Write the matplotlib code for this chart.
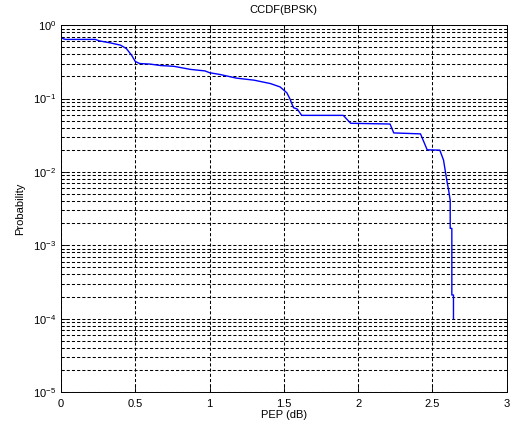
"""
CCDF of PEP for BPSK, semilog plot in the old MATLAB look.
"""

import matplotlib

matplotlib.use("Agg")
import matplotlib.pyplot as plt
from matplotlib.ticker import LogLocator, MultipleLocator, NullFormatter

# curve (PEP in dB, probability)
pep_db = [
    0.0, 0.01, 0.03, 0.23, 0.26, 0.33, 0.40, 0.44, 0.475, 0.50,
    0.53, 0.60, 0.67, 0.76, 0.87, 0.97, 1.00, 1.07, 1.18, 1.30,
    1.41, 1.475, 1.52, 1.54, 1.565, 1.59, 1.62, 1.90, 1.95, 2.215,
    2.24, 2.42, 2.465, 2.55, 2.575, 2.597, 2.609, 2.62, 2.62, 2.631,
    2.631, 2.642, 2.642,
]
prob = [
    0.68, 0.66, 0.64, 0.64, 0.61, 0.575, 0.535, 0.48, 0.39, 0.32,
    0.30, 0.295, 0.282, 0.275, 0.25, 0.238, 0.225, 0.213, 0.19, 0.178,
    0.16, 0.144, 0.12, 0.10, 0.075, 0.072, 0.059, 0.059, 0.046, 0.045,
    0.034, 0.033, 0.020, 0.0198, 0.0145, 0.0077, 0.0057, 0.0041, 0.0017, 0.0017,
    0.00021, 0.00021, 0.0001,
]

plt.rcParams.update(
    {
        "font.family": ["Liberation Sans", "DejaVu Sans"],
        "font.size": 8,
        "mathtext.default": "regular",
        "xtick.direction": "in",
        "ytick.direction": "in",
        "xtick.top": True,
        "ytick.right": True,
    }
)

fig = plt.figure(figsize=(5.14, 4.30), dpi=100)
ax = fig.add_axes([0.1187, 0.0884, 0.867, 0.853])

ax.semilogy(pep_db, prob, color="#0000ff", lw=1.0)

ax.set_xlim(0, 3)
ax.set_ylim(1e-5, 1)
ax.xaxis.set_major_locator(MultipleLocator(0.5))
ax.xaxis.set_major_formatter(plt.FuncFormatter(lambda v, _: f"{v:g}"))
ax.yaxis.set_major_locator(LogLocator(base=10, numticks=10))
ax.yaxis.set_minor_locator(LogLocator(base=10, subs=range(2, 10), numticks=50))
ax.yaxis.set_minor_formatter(NullFormatter())

dash = (0, (3, 2))
ax.grid(True, which="major", axis="x", color="black", ls=dash, lw=0.75)
ax.grid(True, which="both", axis="y", color="black", ls=dash, lw=0.75)

ax.tick_params(which="major", length=4, width=0.6, colors="black", labelsize=8)
ax.tick_params(axis="x", which="major", pad=5)
ax.tick_params(which="minor", length=2, width=0.6)
for s in ax.spines.values():
    s.set_linewidth(0.7)

ax.set_title("CCDF(BPSK)", fontsize=8, pad=9)
ax.set_xlabel("PEP (dB)", fontsize=8, labelpad=1)
ax.set_ylabel("Probability", fontsize=8, labelpad=6)

fig.savefig("out.png", dpi=100)
plt.close(fig)
